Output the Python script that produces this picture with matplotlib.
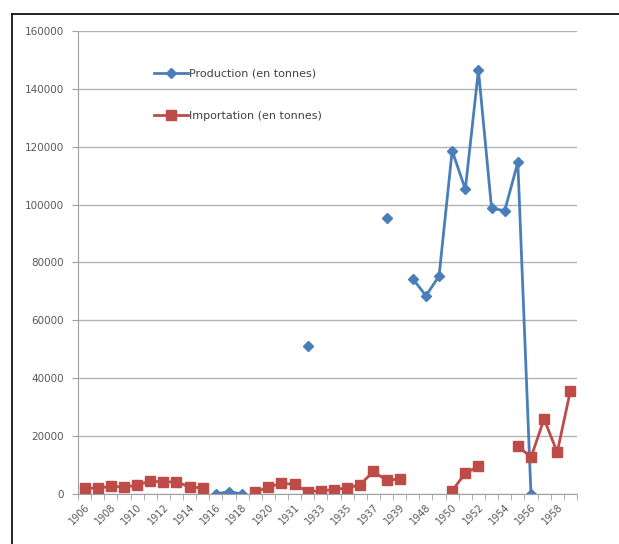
import matplotlib.pyplot as plt
import numpy as np
from matplotlib.lines import Line2D

nan = np.nan

# data
years = ['1906', '1907', '1908', '1909', '1910', '1911', '1912', '1913', '1914', '1915',
         '1916', '1917', '1918', '1919', '1920', '1930', '1931', '1932', '1933', '1934',
         '1935', '1936', '1937', '1938', '1939', '1947', '1948', '1949', '1950', '1951',
         '1952', '1953', '1954', '1955', '1956', '1957', '1958', '1959']

production = [nan, nan, nan, nan, nan, nan, nan, nan, nan, nan,
              0, 800, 0, nan, nan, nan, nan, 51000, nan, nan,
              nan, nan, nan, 95300, nan, 74400, 68500, 75300, 118600, 105300,
              146500, 98700, 97900, 114600, 0, nan, nan, nan]

importation = [2000, 2000, 2600, 2400, 3000, 4500, 4100, 4200, 2400, 2100,
               nan, nan, nan, 600, 2400, 3700, 3300, 800, 1100, 1500,
               2100, 3200, 7800, 4700, 5200, nan, nan, nan, 1100, 7200,
               9500, nan, nan, 16700, 12600, 25900, 14400, 35600]

fig = plt.figure(figsize=(6.19, 5.44), dpi=100)
ax = fig.add_axes([0.126, 0.092, 0.806, 0.851])

x = np.arange(len(years))
ax.plot(x, production, color='#4A7EBB', linewidth=2.0, marker='D', markersize=5,
        label='Production (en tonnes)')
ax.plot(x, importation, color='#BE4B48', linewidth=2.0, marker='s', markersize=7,
        label='Importation (en tonnes)')

ax.set_xlim(-0.5, len(years) - 0.5)
ax.set_ylim(0, 160000)
ax.set_yticks(np.arange(0, 160001, 20000))
ax.yaxis.grid(True, color='#B3B3B3', linewidth=1.0)
ax.set_axisbelow(True)

ax.set_xticks(x[::2])
ax.set_xticklabels(years[::2], rotation=45, ha='right', rotation_mode='anchor')
ax.set_xticks(np.arange(-0.5, len(years), 1), minor=True)
ax.tick_params(axis='x', which='major', length=0, labelsize=7, labelcolor='#595959', pad=6)
ax.tick_params(axis='x', which='minor', length=4, color='#A0A0A0', direction='out')
ax.tick_params(axis='y', length=4, color='#A0A0A0', labelsize=7.5, labelcolor='#595959', pad=6)

for s in ['top', 'right']:
    ax.spines[s].set_visible(False)
for s in ['left', 'bottom']:
    ax.spines[s].set_color('#A0A0A0')

ax.legend(loc='upper left', bbox_to_anchor=(0.133, 0.94), frameon=False, fontsize=8,
          labelspacing=2.9, handlelength=3.0, handletextpad=0.1, labelcolor='#404040')

# outer frame
fig.add_artist(Line2D([12 / 619, 12 / 619], [0, 530 / 544], color='black', linewidth=1.2))
fig.add_artist(Line2D([12 / 619, 1], [530 / 544, 530 / 544], color='black', linewidth=1.2))

fig.savefig('out.png', dpi=100)
